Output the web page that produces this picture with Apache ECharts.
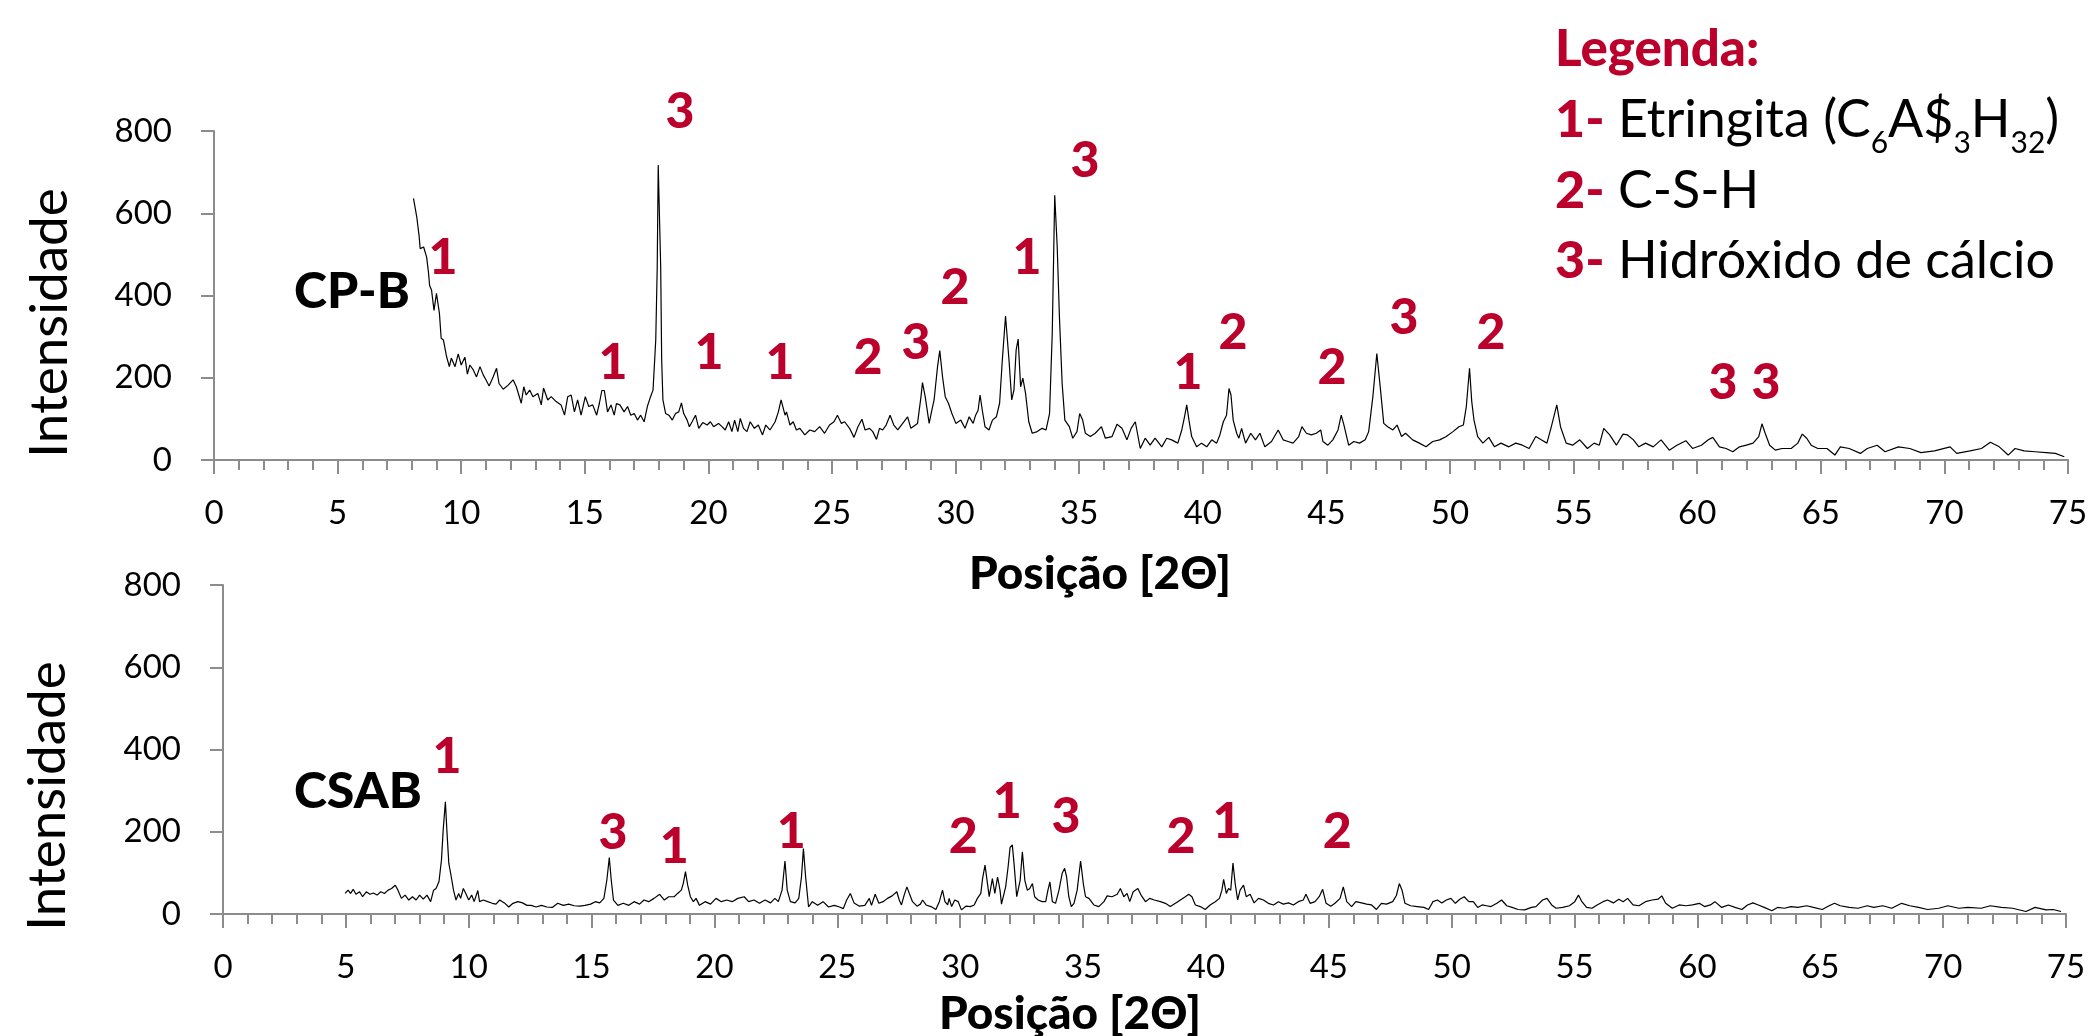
<!DOCTYPE html>
<html>
<head>
<meta charset="utf-8">
<title>DRX - CP-B e CSAB</title>
<script src="https://cdn.jsdelivr.net/npm/echarts@6/dist/echarts.min.js"></script>
<style>
  html, body { margin: 0; padding: 0; background: #fff; }
  #chart { width: 2091px; height: 1036px; }
</style>
</head>
<body>
<div id="chart"></div>
<script>
const FONT = "Lato, 'Open Sans', sans-serif";
const RED = "#BC002C";
const AXIS_GRAY = "#8C8C8C";

// CP-B pattern, [2θ, intensidade]
const cpbPattern = [
  [8.07,636],[8.2,592],[8.3,543],[8.34,514],[8.48,518],[8.6,494],[8.68,454],[8.72,425],[8.8,413],[8.9,364],
  [9.0,405],[9.12,356],[9.19,296],[9.28,292],[9.41,251],[9.52,227],[9.6,248],[9.75,227],[9.88,258],[10.0,231],
  [10.15,250],[10.25,209],[10.35,231],[10.49,219],[10.62,202],[10.76,227],[10.89,207],[11.0,195],[11.13,180],[11.29,202],
  [11.43,223],[11.53,186],[11.7,172],[11.9,182],[12.1,195],[12.23,178],[12.43,138],[12.53,178],[12.63,158],[12.77,170],
  [12.9,154],[13.1,162],[13.24,134],[13.33,175],[13.5,146],[13.64,154],[13.84,142],[14.04,134],[14.18,109],[14.31,154],
  [14.45,158],[14.58,117],[14.71,146],[14.85,109],[15.02,154],[15.16,130],[15.32,134],[15.48,109],[15.59,138],[15.69,169],
  [15.79,169],[15.92,117],[16.06,134],[16.19,109],[16.28,137],[16.42,134],[16.59,117],[16.73,130],[16.86,109],[17.0,113],
  [17.13,97],[17.26,109],[17.4,93],[17.53,130],[17.66,154],[17.76,170],[17.87,292],[17.93,470],[17.97,717],[18.01,717],
  [18.07,470],[18.11,243],[18.16,146],[18.27,113],[18.4,109],[18.54,97],[18.67,113],[18.8,117],[18.91,139],[19.0,113],
  [19.14,97],[19.23,81],[19.34,93],[19.48,109],[19.61,77],[19.77,91],[19.95,85],[20.08,93],[20.21,81],[20.41,89],
  [20.55,81],[20.68,73],[20.82,93],[20.95,69],[21.06,97],[21.19,69],[21.29,101],[21.42,77],[21.56,69],[21.69,93],
  [21.86,77],[22.02,85],[22.19,61],[22.32,85],[22.49,73],[22.7,93],[22.83,117],[22.94,146],[22.99,142],[23.1,109],
  [23.16,117],[23.3,85],[23.43,93],[23.56,73],[23.7,77],[23.9,61],[24.1,73],[24.3,69],[24.5,81],[24.7,65],
  [24.9,85],[25.08,93],[25.22,109],[25.38,89],[25.51,93],[25.71,77],[25.89,55],[26.05,81],[26.21,99],[26.34,73],
  [26.52,77],[26.65,69],[26.8,50],[26.92,77],[27.05,73],[27.19,85],[27.35,109],[27.5,85],[27.66,73],[27.86,89],
  [28.06,105],[28.19,77],[28.46,89],[28.6,154],[28.66,188],[28.77,154],[28.93,89],[29.04,121],[29.13,146],[29.27,227],
  [29.36,266],[29.47,203],[29.58,154],[29.71,138],[29.85,113],[30.01,89],[30.21,97],[30.38,77],[30.55,105],[30.71,89],
  [30.81,109],[30.91,121],[30.99,158],[31.08,121],[31.19,81],[31.35,73],[31.49,97],[31.65,105],[31.78,138],[31.89,243],
  [32.02,350],[32.16,243],[32.27,146],[32.36,170],[32.45,268],[32.53,294],[32.63,178],[32.72,199],[32.83,162],[32.96,93],
  [33.1,65],[33.3,69],[33.5,77],[33.66,73],[33.8,113],[33.91,308],[34.01,644],[34.11,519],[34.2,348],[34.31,186],
  [34.42,97],[34.6,81],[34.74,53],[34.91,69],[35.02,113],[35.14,97],[35.25,65],[35.45,57],[35.65,65],[35.9,81],
  [36.06,53],[36.33,57],[36.53,87],[36.73,77],[36.93,49],[37.1,77],[37.27,93],[37.47,28],[37.67,53],[37.87,36],
  [38.07,53],[38.34,32],[38.54,53],[38.74,49],[38.99,41],[39.15,73],[39.26,105],[39.35,134],[39.44,97],[39.55,57],
  [39.75,32],[39.95,41],[40.16,32],[40.36,49],[40.56,41],[40.69,61],[40.83,93],[40.96,109],[41.06,174],[41.14,158],
  [41.23,97],[41.37,65],[41.46,53],[41.57,77],[41.73,41],[41.94,65],[42.13,49],[42.31,65],[42.51,32],[42.78,45],
  [43.05,73],[43.25,49],[43.45,45],[43.65,41],[43.88,57],[44.01,81],[44.19,65],[44.39,61],[44.59,65],[44.77,73],
  [44.86,45],[45.06,36],[45.26,49],[45.47,73],[45.6,109],[45.71,85],[45.9,36],[46.11,45],[46.34,41],[46.57,49],
  [46.71,69],[46.88,154],[47.04,259],[47.19,170],[47.32,89],[47.48,81],[47.69,73],[47.86,85],[48.04,57],[48.2,65],
  [48.49,49],[48.76,41],[49.03,32],[49.3,45],[49.58,49],[49.85,57],[50.12,69],[50.36,81],[50.54,85],[50.66,130],
  [50.79,223],[50.88,142],[50.97,97],[51.12,57],[51.33,41],[51.57,55],[51.8,32],[52.06,41],[52.38,32],[52.66,41],
  [52.93,36],[53.2,28],[53.47,57],[53.69,49],[53.92,41],[54.1,81],[54.32,134],[54.47,81],[54.7,41],[54.96,36],
  [55.25,49],[55.56,28],[55.83,41],[56.04,36],[56.22,77],[56.46,61],[56.73,36],[57.0,63],[57.18,61],[57.42,49],
  [57.64,32],[57.91,41],[58.22,32],[58.54,49],[58.87,24],[59.18,36],[59.54,47],[59.81,28],[60.17,36],[60.45,49],
  [60.63,55],[60.9,32],[61.17,28],[61.44,20],[61.71,32],[61.99,36],[62.26,41],[62.49,57],[62.62,88],[62.75,65],
  [62.93,36],[63.16,24],[63.43,28],[63.8,28],[64.07,41],[64.25,63],[64.43,53],[64.61,36],[64.88,28],[65.25,28],
  [65.57,12],[65.79,32],[66.15,28],[66.6,16],[66.88,28],[67.28,36],[67.6,20],[68.14,32],[68.6,28],[69.05,18],
  [69.6,22],[70.23,32],[70.5,16],[71.04,22],[71.5,28],[71.86,43],[72.22,32],[72.58,12],[72.86,28],[73.22,22],
  [73.67,20],[74.12,18],[74.49,16],[74.85,8]
];

// CSAB pattern, [2θ, intensidade]
const csabPattern = [
  [4.97,50],[5.09,58],[5.19,50],[5.3,60],[5.41,48],[5.56,54],[5.68,42],[5.83,54],[5.98,48],[6.12,51],
  [6.27,46],[6.42,54],[6.57,50],[6.72,58],[6.86,62],[7.01,70],[7.12,58],[7.26,38],[7.41,46],[7.56,34],
  [7.71,42],[7.86,34],[8.0,46],[8.15,36],[8.3,46],[8.45,30],[8.57,58],[8.67,62],[8.79,79],[8.89,131],
  [8.96,204],[9.05,273],[9.11,204],[9.19,123],[9.29,90],[9.38,58],[9.48,34],[9.59,50],[9.67,38],[9.78,62],
  [9.88,50],[10.0,34],[10.12,46],[10.22,30],[10.37,57],[10.44,30],[10.59,34],[10.77,30],[10.96,26],[11.11,24],
  [11.26,34],[11.45,27],[11.63,17],[11.8,26],[12.0,30],[12.19,27],[12.37,21],[12.54,21],[12.74,17],[12.96,21],
  [13.18,17],[13.4,16],[13.62,26],[13.85,21],[14.07,24],[14.29,20],[14.51,19],[14.73,21],[14.96,24],[15.15,30],
  [15.33,27],[15.5,38],[15.62,82],[15.72,137],[15.8,82],[15.89,34],[16.07,21],[16.29,26],[16.51,21],[16.73,30],
  [16.95,24],[17.13,34],[17.32,30],[17.54,38],[17.77,48],[17.96,34],[18.14,42],[18.36,42],[18.5,50],[18.65,58],
  [18.73,74],[18.82,103],[18.91,70],[19.02,42],[19.14,30],[19.25,38],[19.39,21],[19.62,30],[19.84,24],[20.06,38],
  [20.28,30],[20.5,34],[20.72,30],[20.95,38],[21.21,42],[21.39,30],[21.61,34],[21.83,26],[22.06,34],[22.28,27],
  [22.46,38],[22.6,30],[22.75,58],[22.87,129],[22.96,58],[23.09,30],[23.28,27],[23.43,38],[23.54,90],[23.62,159],
  [23.71,90],[23.83,17],[23.98,30],[24.2,21],[24.42,30],[24.64,17],[24.87,21],[25.09,17],[25.24,13],[25.38,34],
  [25.53,50],[25.68,27],[25.9,19],[26.12,21],[26.3,38],[26.39,21],[26.54,48],[26.69,26],[26.86,30],[27.04,38],
  [27.23,44],[27.42,54],[27.52,34],[27.61,22],[27.72,46],[27.83,66],[27.93,50],[28.06,30],[28.24,19],[28.38,24],
  [28.47,34],[28.61,22],[28.81,18],[29.01,11],[29.15,30],[29.28,58],[29.38,30],[29.49,22],[29.55,38],[29.65,18],
  [29.78,34],[29.92,30],[30.05,10],[30.23,19],[30.41,18],[30.57,22],[30.7,38],[30.84,50],[30.91,86],[31.01,119],
  [31.11,74],[31.18,42],[31.31,86],[31.41,50],[31.52,90],[31.62,58],[31.68,24],[31.85,66],[31.95,115],[32.03,162],
  [32.12,168],[32.19,123],[32.3,42],[32.44,82],[32.53,151],[32.63,82],[32.73,58],[32.83,62],[32.94,74],[33.03,42],
  [33.17,34],[33.34,30],[33.48,30],[33.57,58],[33.65,78],[33.75,30],[33.88,26],[34.02,58],[34.15,99],[34.25,111],
  [34.33,90],[34.42,42],[34.52,18],[34.63,26],[34.76,58],[34.9,129],[35.01,74],[35.1,42],[35.24,38],[35.44,22],
  [35.64,18],[35.85,30],[35.98,44],[36.18,42],[36.39,48],[36.52,62],[36.66,42],[36.79,50],[36.9,30],[37.04,54],
  [37.23,62],[37.36,46],[37.54,30],[37.71,38],[37.9,34],[38.15,30],[38.35,26],[38.55,18],[38.76,26],[38.96,34],
  [39.16,42],[39.3,48],[39.43,42],[39.57,22],[39.77,18],[39.97,11],[40.17,22],[40.38,30],[40.55,38],[40.65,58],
  [40.72,84],[40.83,50],[40.92,62],[41.01,58],[41.1,124],[41.19,74],[41.29,34],[41.39,58],[41.53,70],[41.64,42],
  [41.8,48],[41.96,27],[42.14,38],[42.34,34],[42.54,26],[42.75,22],[42.95,30],[43.15,24],[43.36,27],[43.56,22],
  [43.76,30],[43.96,34],[44.07,48],[44.24,26],[44.44,30],[44.61,42],[44.75,60],[44.89,26],[45.08,19],[45.25,26],
  [45.46,38],[45.59,66],[45.73,30],[45.93,18],[46.1,30],[46.33,27],[46.54,24],[46.74,22],[46.94,11],[47.14,26],
  [47.35,24],[47.6,30],[47.75,45],[47.87,74],[47.98,58],[48.1,26],[48.33,20],[48.6,18],[48.87,16],[49.06,11],
  [49.24,30],[49.42,34],[49.6,27],[49.78,34],[49.97,38],[50.15,26],[50.33,36],[50.51,42],[50.7,30],[50.88,30],
  [51.06,16],[51.24,22],[51.42,20],[51.6,18],[51.84,26],[52.03,34],[52.24,20],[52.46,16],[52.7,11],[52.97,10],
  [53.25,16],[53.43,18],[53.7,34],[53.88,38],[54.07,22],[54.25,14],[54.52,16],[54.79,20],[55.01,30],[55.16,46],
  [55.3,30],[55.49,16],[55.71,14],[55.92,22],[56.16,30],[56.34,34],[56.58,27],[56.8,36],[56.98,30],[57.16,38],
  [57.38,22],[57.62,20],[57.89,30],[58.16,34],[58.4,36],[58.55,44],[58.71,26],[58.98,14],[59.26,22],[59.53,20],
  [59.8,22],[60.08,26],[60.29,18],[60.53,22],[60.71,30],[60.99,16],[61.26,22],[61.53,16],[61.81,11],[62.04,22],
  [62.26,27],[62.48,22],[62.72,16],[63.03,8],[63.26,16],[63.54,14],[63.81,18],[64.08,16],[64.45,20],[64.72,16],
  [65.08,11],[65.36,20],[65.58,26],[65.81,20],[66.18,16],[66.54,14],[66.91,20],[67.18,16],[67.54,20],[67.91,14],
  [68.31,26],[68.64,20],[69.0,16],[69.37,11],[69.82,14],[70.19,20],[70.64,14],[71.0,16],[71.55,14],[71.92,20],
  [72.37,16],[72.83,14],[73.37,6],[73.74,16],[74.19,10],[74.47,11],[74.8,6]
];

// phase numbers placed over the peaks: [2θ, intensidade, fase]
const cpbPhaseMarks = [
  [9.26,491,"1"],[16.14,236,"1"],[18.85,846,"3"],[20.02,260,"1"],[22.9,236,"1"],[26.46,248,"2"],
  [28.4,285,"3"],[29.98,418,"2"],[32.89,491,"1"],[35.23,727,"3"],[39.4,212,"1"],[41.22,309,"2"],
  [45.23,224,"2"],[48.14,345,"3"],[51.66,309,"2"],[61.04,187,"3"],[62.78,187,"3"]
];
const csabPhaseMarks = [
  [9.12,382,"1"],[15.87,197,"3"],[18.36,163,"1"],[23.12,199,"1"],[30.12,187,"2"],
  [31.91,272,"1"],[34.31,236,"3"],[38.99,187,"2"],[40.86,224,"1"],[45.34,199,"2"]
];

const sampleLabels = ["CP-B", "CSAB"];
const sampleLabelPos = [[5.58, 408], [5.49, 297]];

const xTitle = "Posição [2Θ]";
const yTitle = "Intensidade";
const legendTitle = "Legenda:";
const legendLines = [
  "{n|1-} Etringita (C{s|6}A${s|3}H{s|32})",
  "{n|2-} C-S-H",
  "{n|3-} Hidróxido de cálcio"
];

const chart = echarts.init(document.getElementById("chart"));

function xAxisFor(gridIndex) {
  return {
    type: "value", gridIndex: gridIndex, min: 0, max: 75, interval: 5,
    axisLine: { lineStyle: { color: AXIS_GRAY, width: 2 } },
    axisTick: { length: 14, lineStyle: { color: AXIS_GRAY, width: 2 } },
    minorTick: { show: true, splitNumber: 5, length: 10, lineStyle: { color: AXIS_GRAY, width: 2 } },
    axisLabel: { color: "#000", fontFamily: FONT, fontSize: 33, margin: 37 },
    splitLine: { show: false }
  };
}

function yAxisFor(gridIndex) {
  return {
    type: "value", gridIndex: gridIndex, min: 0, max: 800, interval: 200,
    axisLine: { show: true, lineStyle: { color: AXIS_GRAY, width: 2 } },
    axisTick: { show: true, length: 13, lineStyle: { color: AXIS_GRAY, width: 2 } },
    axisLabel: { color: "#000", fontFamily: FONT, fontSize: 33, margin: 42 },
    splitLine: { show: false }
  };
}

function patternSeries(data, idx) {
  return {
    type: "line", xAxisIndex: idx, yAxisIndex: idx, data: data,
    showSymbol: false, symbol: "none", silent: true,
    lineStyle: { color: "#000", width: 1.2 }
  };
}

// scatter defaults to 0.8 opacity, which would wash out the labels
function labelSeries(items, idx, color) {
  return {
    type: "scatter", xAxisIndex: idx, yAxisIndex: idx, clip: false, silent: true,
    symbolSize: 1, itemStyle: { color: "rgba(0,0,0,0)", opacity: 1 },
    data: items,
    label: {
      show: true, position: "inside", formatter: "{b}", opacity: 1,
      color: color, fontFamily: FONT, fontWeight: 900, fontSize: 50
    },
    z: 5
  };
}

function textEl(text, x, y, opts) {
  return Object.assign({
    type: "text", x: x, y: y, silent: true,
    style: Object.assign({
      text: text, fill: "#000", fontFamily: FONT,
      align: "center", verticalAlign: "middle",
      textAlign: "center", textVerticalAlign: "middle"
    }, opts.style)
  }, opts.el || {});
}

const legendRich = {
  n: { fontFamily: FONT, fontSize: 52, fontWeight: 900, fill: RED, color: RED },
  s: { fontFamily: FONT, fontSize: 30, lineHeight: 30, padding: [46, 0, 0, 0], verticalAlign: "middle" }
};

const option = {
  animation: false,
  backgroundColor: "#fff",
  grid: [
    { left: 214, top: 131, width: 1854, height: 329 },
    { left: 223, top: 585, width: 1843, height: 329 }
  ],
  xAxis: [xAxisFor(0), xAxisFor(1)],
  yAxis: [yAxisFor(0), yAxisFor(1)],
  series: [
    patternSeries(cpbPattern, 0),
    patternSeries(csabPattern, 1),
    labelSeries(cpbPhaseMarks.map(m => ({ value: [m[0], m[1]], name: m[2] })), 0, RED),
    labelSeries(csabPhaseMarks.map(m => ({ value: [m[0], m[1]], name: m[2] })), 1, RED),
    labelSeries([{ value: sampleLabelPos[0], name: sampleLabels[0] }], 0, "#000"),
    labelSeries([{ value: sampleLabelPos[1], name: sampleLabels[1] }], 1, "#000")
  ],
  graphic: [
    textEl(yTitle, 50, 323, { style: { fontSize: 53 }, el: { rotation: Math.PI / 2 } }),
    textEl(yTitle, 48, 796, { style: { fontSize: 53 }, el: { rotation: Math.PI / 2 } }),
    textEl(xTitle, 1100, 574, { style: { fontSize: 46, fontWeight: 900 } }),
    textEl(xTitle, 1070, 1014, { style: { fontSize: 46, fontWeight: 900 } }),
    textEl(legendTitle, 1555, 50, { style: { fontSize: 51, fontWeight: 900, fill: RED, align: "left", textAlign: "left" } }),
    textEl(legendLines[0], 1555, 120, { style: { fontSize: 52, align: "left", textAlign: "left", rich: legendRich } }),
    textEl(legendLines[1], 1555, 191, { style: { fontSize: 52, align: "left", textAlign: "left", rich: legendRich } }),
    textEl(legendLines[2], 1555, 261, { style: { fontSize: 52, align: "left", textAlign: "left", rich: legendRich } })
  ]
};

chart.setOption(option);
</script>
</body>
</html>
